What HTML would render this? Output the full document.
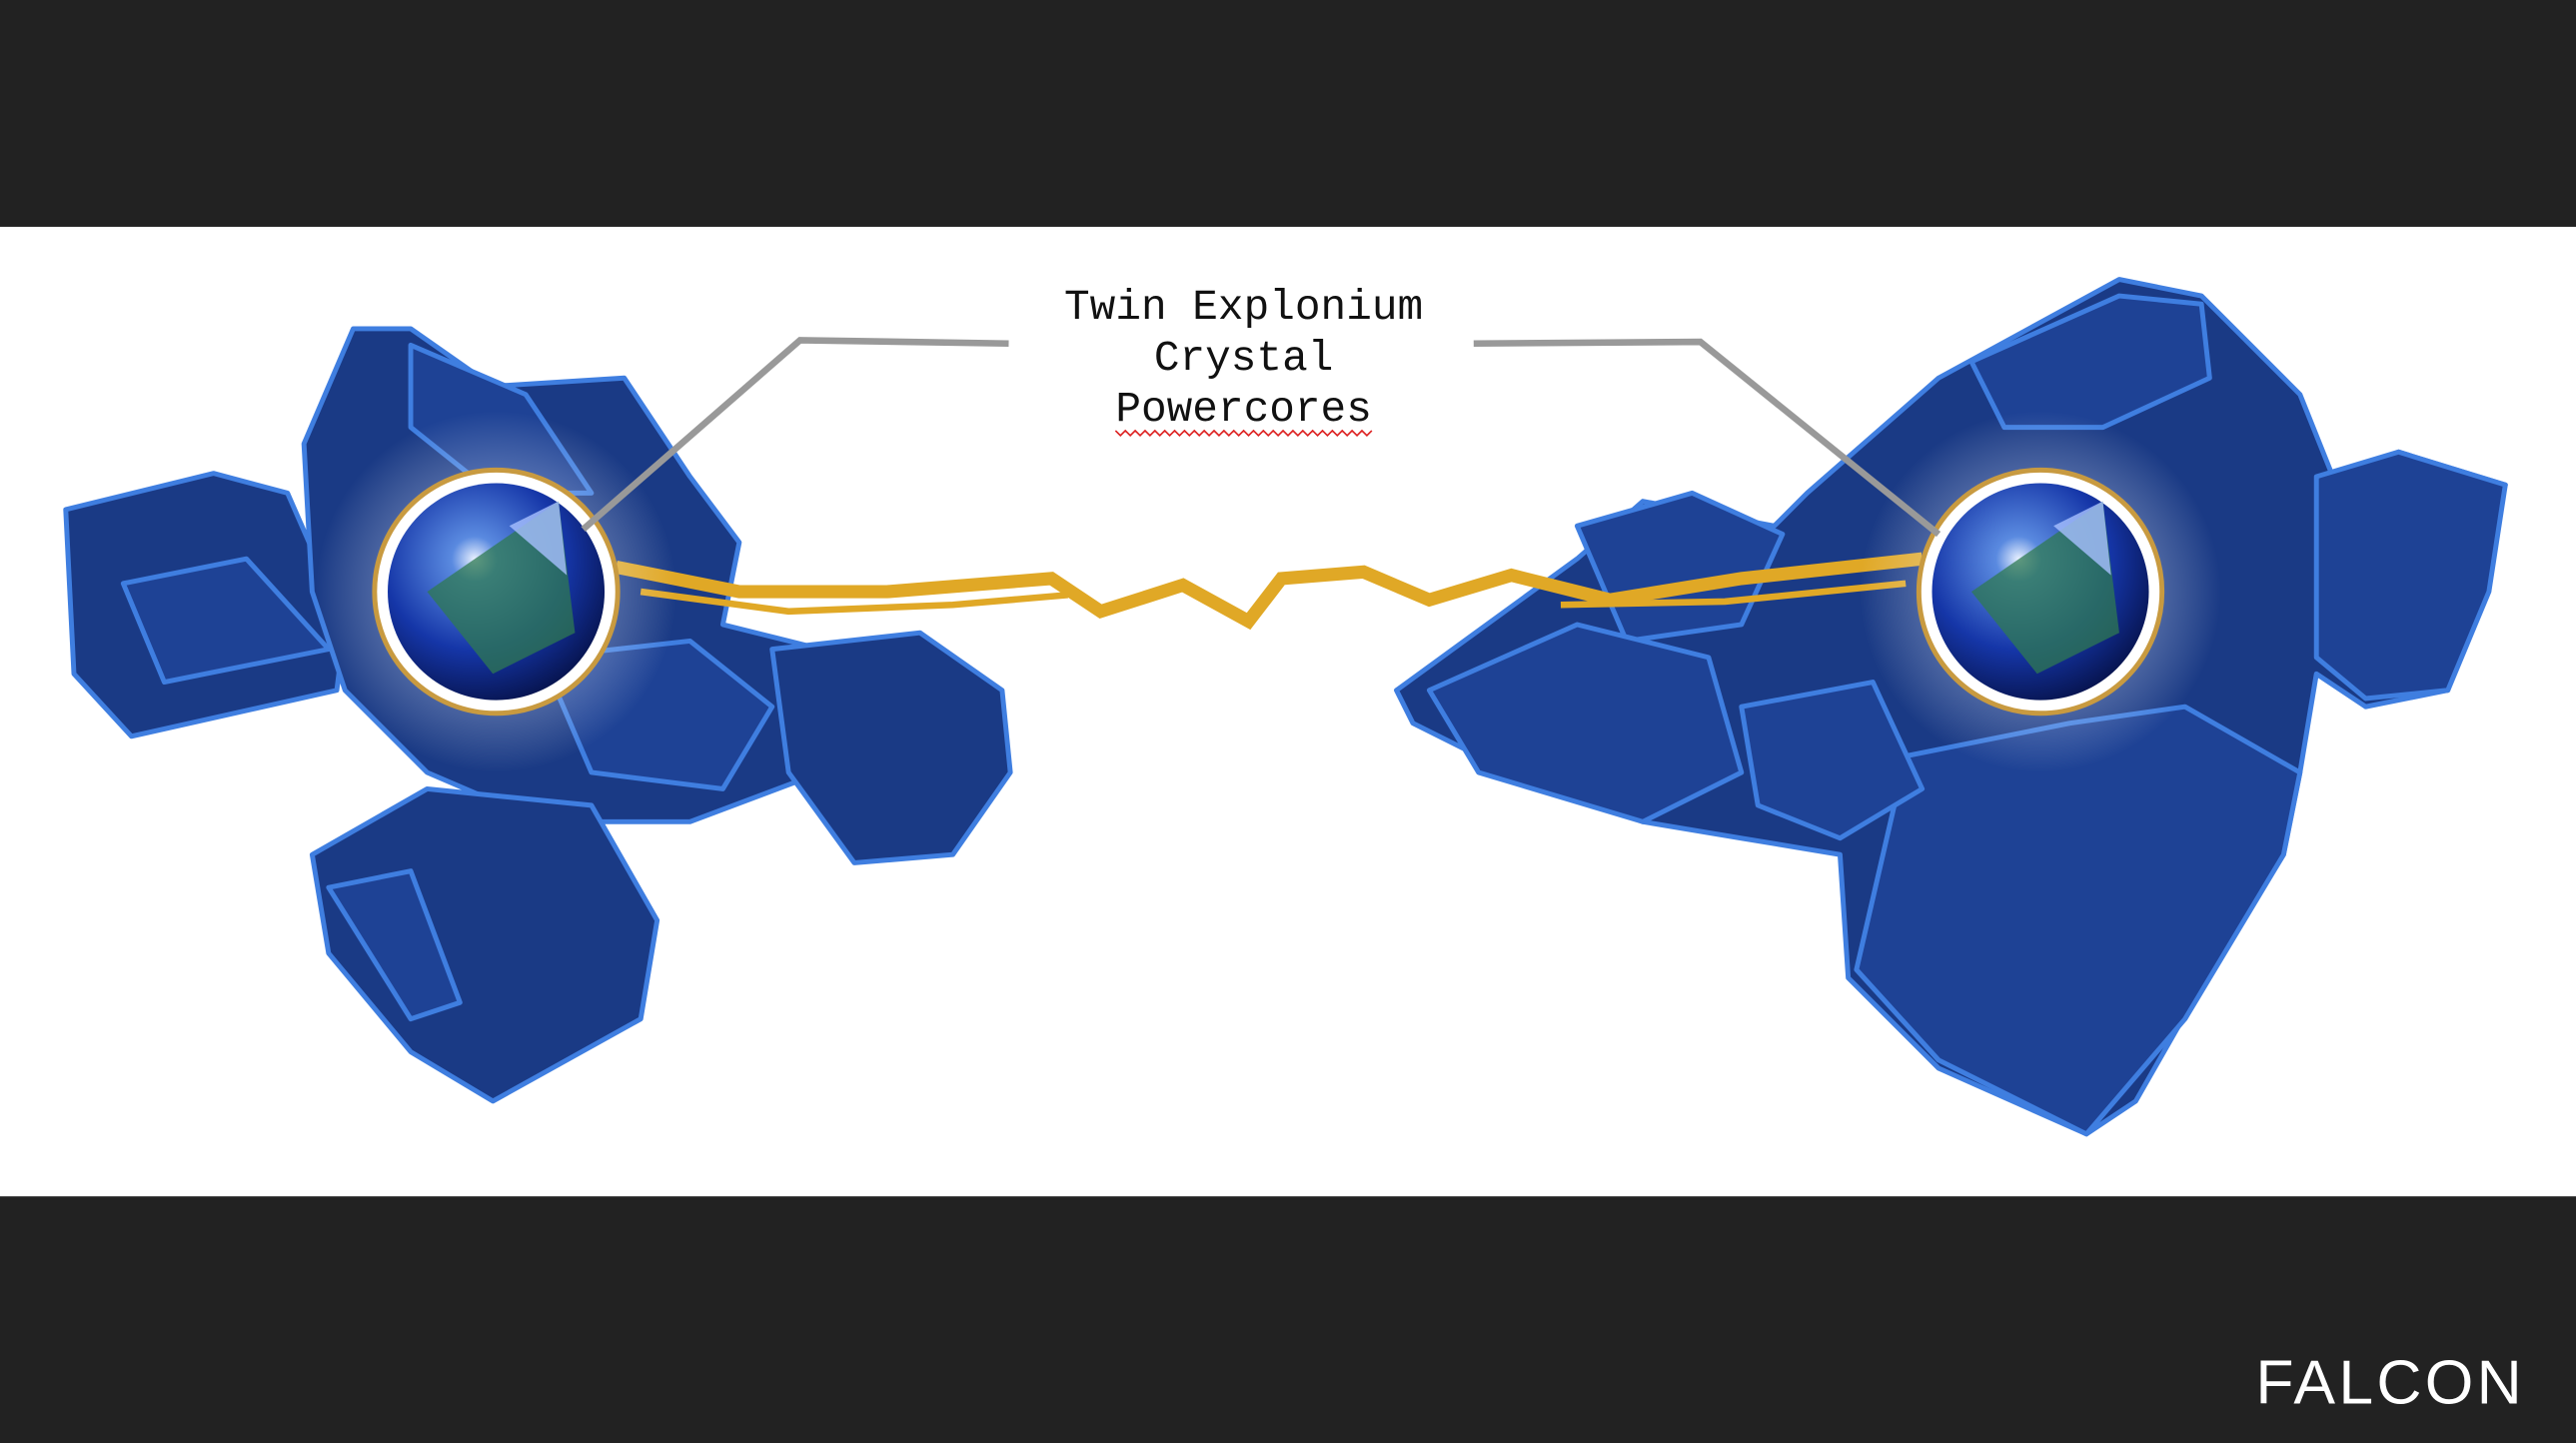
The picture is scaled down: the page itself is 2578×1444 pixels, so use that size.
<!DOCTYPE html>
<html><head><meta charset="utf-8"><style>
html,body{margin:0;padding:0;background:#222;}
svg{display:block}
</style></head><body>
<svg width="2578" height="1444" viewBox="0 0 1568 878" preserveAspectRatio="none" xmlns="http://www.w3.org/2000/svg">
<defs>
<radialGradient id="orb" cx="0.4" cy="0.35" r="0.7">
<stop offset="0" stop-color="#e8f0ff"/><stop offset="0.15" stop-color="#5a8ae0"/><stop offset="0.6" stop-color="#1536a8"/><stop offset="1" stop-color="#06124a"/></radialGradient>
<radialGradient id="glow" cx="0.5" cy="0.5" r="0.5">
<stop offset="0" stop-color="#c8d8ff" stop-opacity="0.7"/><stop offset="1" stop-color="#ffffff" stop-opacity="0"/></radialGradient>
</defs>
<rect x="0" y="0" width="1568" height="138" fill="#222"/>
<rect x="0" y="138" width="1568" height="590" fill="#fff"/>
<rect x="0" y="728" width="1568" height="150" fill="#222"/>

<g fill="#1a3a85" stroke="#3f7ee0" stroke-width="3" stroke-linejoin="round">
<polygon points="40,310 130,288 175,300 210,380 205,420 80,448 45,410"/>
<polygon points="75,355 150,340 200,395 100,415" fill="#1e4295"/>
<polygon points="185,270 215,200 250,200 300,235 380,230 420,290 450,330 440,380 520,400 560,420 500,470 420,500 330,500 260,470 210,420 190,360"/>
<polygon points="190,520 260,480 360,490 400,560 390,620 300,670 250,640 200,580"/>
<polygon points="470,395 560,385 610,420 615,470 580,520 520,525 480,470"/>
<polygon points="330,400 420,390 470,430 440,480 360,470" fill="#1e4295"/>
<polygon points="250,210 320,240 360,300 300,300 250,260" fill="#1e4295"/>
<polygon points="200,540 250,530 280,610 250,620" fill="#1e4295"/>
</g>
<g fill="#1a3a85" stroke="#3f7ee0" stroke-width="3" stroke-linejoin="round">
<polygon points="1100,300 1180,230 1290,170 1340,180 1400,240 1420,290 1460,275 1525,295 1510,350 1490,420 1440,430 1410,410 1400,470 1390,520 1340,600 1300,670 1270,690 1180,650 1125,595 1120,520 1060,510 1000,500 920,470 860,440 850,420 960,340 1000,305 1080,320"/>
<polygon points="1410,290 1460,275 1525,295 1515,360 1490,420 1440,425 1410,400" fill="#1e4295"/>
<polygon points="1160,460 1260,440 1330,430 1400,470 1390,520 1330,620 1270,690 1180,645 1130,590" fill="#1e4295"/>
<polygon points="960,320 1030,300 1085,325 1060,380 990,390" fill="#1e4295"/>
<polygon points="870,420 960,380 1040,400 1060,470 1000,500 900,470" fill="#1e4295"/>
<polygon points="1200,220 1290,180 1340,185 1345,230 1280,260 1220,260" fill="#1e4295"/>
<polygon points="1060,430 1140,415 1170,480 1120,510 1070,490" fill="#1e4295"/>
</g>

<g fill="none" stroke="#e0a826" stroke-width="8" stroke-linejoin="miter">
<polyline points="375,345 450,360 540,360 640,352 670,372 720,356 760,378 780,352 830,348 870,365 920,350 980,365 1060,352 1170,340"/>
<polyline points="390,360 480,372 580,368 650,362" stroke-width="4"/>
<polyline points="950,368 1050,366 1160,355" stroke-width="4"/>
</g>

<circle cx="302" cy="360" r="110" fill="url(#glow)"/>
<circle cx="1242" cy="360" r="110" fill="url(#glow)"/>
<g>
<circle cx="302" cy="360" r="74" fill="#fff" stroke="#c89a40" stroke-width="3"/>
<circle cx="302" cy="360" r="66" fill="url(#orb)"/>
<polygon points="260,360 340,305 350,385 300,410" fill="#2f7a52" opacity="0.75"/>
<polygon points="310,320 340,305 345,350" fill="#a8c0ff" opacity="0.8"/>
</g>
<g>
<circle cx="1242" cy="360" r="74" fill="#fff" stroke="#c89a40" stroke-width="3"/>
<circle cx="1242" cy="360" r="66" fill="url(#orb)"/>
<polygon points="1200,360 1280,305 1290,385 1240,410" fill="#2f7a52" opacity="0.75"/>
<polygon points="1250,320 1280,305 1285,350" fill="#a8c0ff" opacity="0.8"/>
</g>

<g fill="none" stroke="#999" stroke-width="4">
<polyline points="614,209 487,207 355,322"/>
<polyline points="897,209 1035,208 1180,325"/>
</g>

<g font-family="'Liberation Mono', monospace" font-size="26" fill="#111" text-anchor="middle">
<text x="757" y="194">Twin Explonium</text>
<text x="757" y="225">Crystal</text>
<text x="757" y="256">Powercores</text>
</g>
<polyline points="679,262 682,265 685,262 688,265 691,262 694,265 697,262 700,265 703,262 706,265 709,262 712,265 715,262 718,265 721,262 724,265 727,262 730,265 733,262 736,265 739,262 742,265 745,262 748,265 751,262 754,265 757,262 760,265 763,262 766,265 769,262 772,265 775,262 778,265 781,262 784,265 787,262 790,265 793,262 796,265 799,262 802,265 805,262 808,265 811,262 814,265 817,262 820,265 823,262 826,265 829,262 832,265 835,262" fill="none" stroke="#d22" stroke-width="1"/>

<text x="1455" y="854" text-anchor="middle" font-family="'Liberation Sans', sans-serif" font-size="38" fill="#fff" letter-spacing="2">FALCON</text>
</svg>
</body></html>
